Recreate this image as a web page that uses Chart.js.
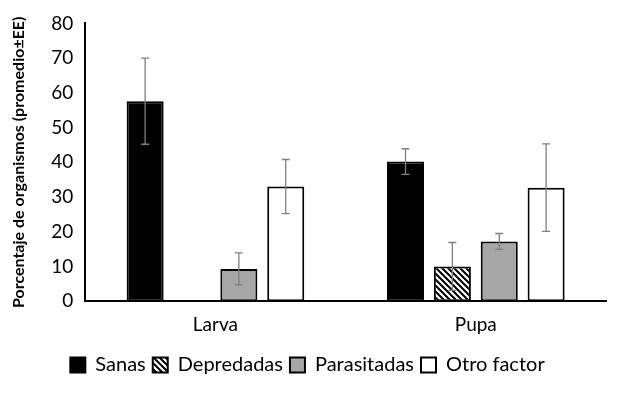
<!DOCTYPE html>
<html>
  <head>
    <meta charset="UTF-8" />
    <title>Porcentaje de organismos</title>
    <style>
      body {
        margin: 0;
        background: #fff;
      }
      #wrap {
        width: 623px;
        height: 393px;
      }
    </style>
  </head>
  <body>
    <div id="wrap"><canvas id="chart"></canvas></div>

    <script src="https://cdn.jsdelivr.net/npm/chart.js"></script>
    <script>
      const categories = ["Larva", "Pupa"];
      const seriesNames = ["Sanas", "Depredadas", "Parasitadas", "Otro factor"];
      const sanas = [57.6, 40.2];
      const depredadas = [0, 10.0];
      const parasitadas = [9.3, 17.2];
      const otroFactor = [33.0, 32.7];
      const errSanas = [12.4, 3.7];
      const errDepredadas = [0, 6.9];
      const errParasitadas = [4.6, 2.3];
      const errOtro = [7.8, 12.6];
      const yTicks = [0, 10, 20, 30, 40, 50, 60, 70, 80];

      // striped fill for Depredadas
      function stripes() {
        const c = document.createElement("canvas");
        c.width = 6;
        c.height = 6;
        const g = c.getContext("2d");
        g.fillStyle = "#fff";
        g.fillRect(0, 0, 6, 6);
        g.strokeStyle = "#000";
        g.lineWidth = 2;
        g.beginPath();
        g.moveTo(-1, -1);
        g.lineTo(7, 7);
        g.moveTo(-4, 2);
        g.lineTo(4, 10);
        g.moveTo(2, -4);
        g.lineTo(10, 4);
        g.stroke();
        return g.createPattern(c, "repeat");
      }

      const font = "Lato, 'Liberation Sans', sans-serif";

      const errorBars = {
        id: "errorBars",
        afterDatasetsDraw(chart) {
          const ctx = chart.ctx;
          const y = chart.scales.y;
          ctx.save();
          ctx.strokeStyle = "#7f7f7f";
          ctx.lineWidth = 1.3;
          chart.data.datasets.forEach((ds, di) => {
            const meta = chart.getDatasetMeta(di);
            ds.data.forEach((v, i) => {
              const e = ds.errors[i];
              if (!e) return;
              const x = meta.data[i].x;
              const top = y.getPixelForValue(v + e);
              const bot = y.getPixelForValue(v - e);
              ctx.beginPath();
              ctx.moveTo(x, top);
              ctx.lineTo(x, bot);
              ctx.moveTo(x - 4, top);
              ctx.lineTo(x + 4, top);
              ctx.moveTo(x - 4, bot);
              ctx.lineTo(x + 4, bot);
              ctx.stroke();
            });
          });
          ctx.restore();
        },
      };

      const common = {
        borderColor: "#000",
        borderWidth: 2,
        borderSkipped: false,
        categoryPercentage: 0.72,
        barPercentage: 0.79,
      };

      new Chart(document.getElementById("chart"), {
        type: "bar",
        data: {
          labels: categories,
          datasets: [
            { ...common, label: seriesNames[0], data: sanas, errors: errSanas, backgroundColor: "#000" },
            { ...common, label: seriesNames[1], data: depredadas, errors: errDepredadas, backgroundColor: stripes() },
            { ...common, label: seriesNames[2], data: parasitadas, errors: errParasitadas, backgroundColor: "#a6a6a6" },
            { ...common, label: seriesNames[3], data: otroFactor, errors: errOtro, backgroundColor: "#fff" },
          ],
        },
        options: {
          responsive: true,
          maintainAspectRatio: false,
          animation: false,
          layout: { padding: { top: 12, right: 17, left: 9, bottom: 8 } },
          plugins: {
            tooltip: { enabled: false },
            legend: {
              position: "bottom",
              labels: {
                color: "#000",
                font: { family: font, size: 20 },
                boxWidth: 15,
                boxHeight: 15,
                padding: 7,
              },
            },
          },
          scales: {
            x: {
              grid: { display: false, drawTicks: false },
              border: { color: "#000", width: 2 },
              ticks: { color: "#000", font: { family: font, size: 19 }, padding: 12 },
            },
            y: {
              min: 0,
              max: 80,
              afterBuildTicks: (s) => {
                s.ticks = yTicks.map((v) => ({ value: v }));
              },
              grid: { display: false, drawTicks: false },
              border: { color: "#000", width: 2 },
              ticks: { color: "#000", font: { family: font, size: 19 }, padding: 12 },
              title: {
                display: true,
                text: "Porcentaje de organismos (promedio±EE)",
                color: "#000",
                font: { family: font, size: 16, weight: "bold" },
                padding: { top: 0, bottom: 11 },
              },
            },
          },
        },
        plugins: [errorBars],
      });
    </script>
  </body>
</html>
